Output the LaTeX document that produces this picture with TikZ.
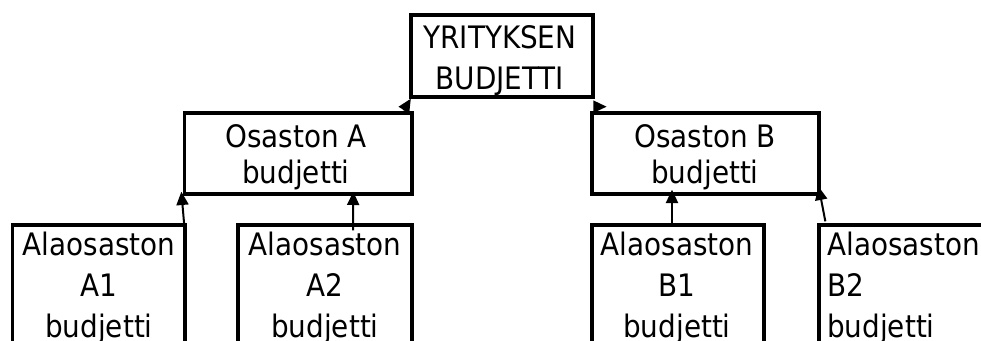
\documentclass[tikz,border=0pt]{standalone}
\usepackage{fontspec}
\setmainfont{DejaVu Sans Condensed}
\usetikzlibrary{arrows.meta}
\begin{document}
\begin{tikzpicture}[x=0.75pt,y=-0.75pt,
  box/.style={draw, line width=2.5pt, inner sep=0pt},
  lbl/.style={align=center, anchor=base, inner sep=0pt},
  wide/.style={font=\fontsize{23.2pt}{30.75pt}\selectfont},
  tight/.style={font=\fontsize{23.2pt}{27pt}\selectfont},
  arr/.style={line width=1.5pt, -{Triangle[length=10pt,width=9pt]}}]
\useasboundingbox (0,0) rectangle (981,340);
\clip (0,0) rectangle (981,340);

% boxes
\node[box, minimum width=136.5pt, minimum height=61.5pt] (top) at (502,56) {};
\node[box, minimum width=170.6pt, minimum height=60.75pt] (oa) at (298.25,153.5) {};
\node[box, minimum width=170.25pt, minimum height=60.75pt] (ob) at (705.5,153.5) {};
\node[box, minimum width=129.4pt, minimum height=116.25pt] (a1) at (98.75,302.5) {};
\node[box, minimum width=130.5pt, minimum height=116.25pt] (a2) at (325,302.5) {};
\node[box, minimum width=129pt, minimum height=116.25pt] (b1) at (678,302.5) {};
\node[box, minimum width=150pt, minimum height=116.25pt] (b2) at (919,302.5) {};

% texts (anchored at the baseline of the last line)
\node[lbl, wide] (ttop) at (500,89) {YRITYKSEN\\BUDJETTI};
\node[lbl, tight] (toa) at (296,183) {Osaston A\\budjetti};
\node[lbl, tight] (tob) at (705,183) {Osaston B\\budjetti};
\node[lbl, wide] (ta1) at (99,337) {Alaosaston\\A1\\budjetti};
\node[lbl, wide] (ta2) at (325,337) {Alaosaston\\A2\\budjetti};
\node[lbl, wide] (tb1) at (677,337) {Alaosaston\\B1\\budjetti};
\node[lbl, wide, align=left, anchor=base west] (tb2) at (827,337) {Alaosaston\\B2\\budjetti};

% connectors
\draw[arr] ([shift={(-2,7)}]a1.north east) -- ([shift={(-1.5,-4)}]oa.south west);
\draw[arr] ([shift={(28,7)}]a2.north) -- ([shift={(55,-4)}]oa.south);
\draw[arr] ([shift={(-6,3)}]b1.north) -- ([shift={(-33.5,-6)}]ob.south);
\draw[arr] ([shift={(8,-2)}]b2.north west) -- ([shift={(-2,-9)}]ob.south east);
\draw[arr] ([shift={(-10,-1)}]oa.north east) -- ([shift={(1.5,0)}]top.south west);
\draw[arr] ([shift={(1,8)}]top.south east) -- ([shift={(12,8)}]top.south east);
\end{tikzpicture}
\end{document}
